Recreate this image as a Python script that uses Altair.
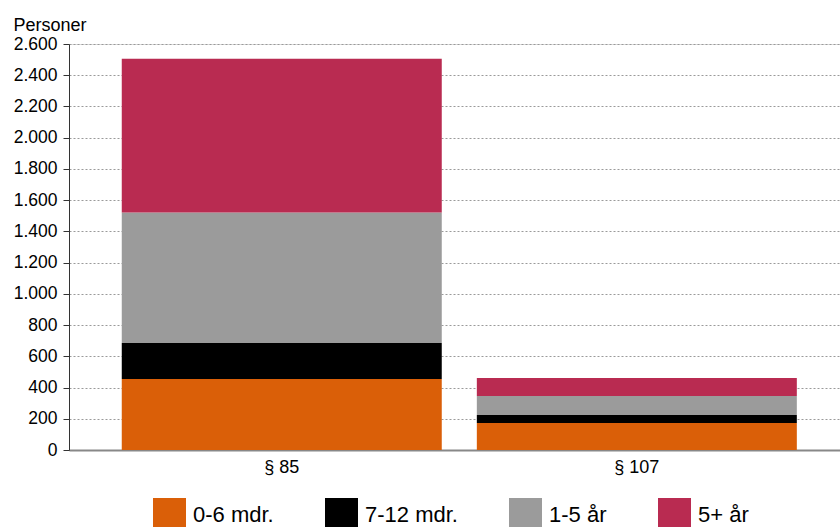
import altair as alt
import pandas as pd

# Categories and stacked series (persons)
categories = ["§ 85", "§ 107"]
groups = ["0-6 mdr.", "7-12 mdr.", "1-5 år", "5+ år"]
colors = ["#DA5F08", "#000000", "#9B9B9B", "#B92B51"]
values = {
    "0-6 mdr.": [455, 173],
    "7-12 mdr.": [231, 51],
    "1-5 år": [835, 122],
    "5+ år": [985, 115],
}

rows = []
for gi, g in enumerate(groups):
    for ci, c in enumerate(categories):
        rows.append({"kategori": c, "gruppe": g, "personer": values[g][ci], "orden": gi})
df = pd.DataFrame(rows)

FONT = "Liberation Sans"

bars = alt.Chart(df).mark_bar(size=320).encode(
    x=alt.X(
        "kategori:N",
        sort=categories,
        scale=alt.Scale(paddingInner=0.0986, paddingOuter=0.135, align=0.55),
        axis=alt.Axis(
            title=None,
            labelAngle=0,
            labelFontSize=18,
            labelFont=FONT,
            labelColor="#000000",
            labelPadding=8,
            ticks=False,
            domainColor="#888888",
            domainWidth=2,
            grid=False,
        ),
    ),
    y=alt.Y(
        "personer:Q",
        stack="zero",
        scale=alt.Scale(domain=[0, 2600], nice=False),
        axis=alt.Axis(
            values=list(range(0, 2601, 200)),
            labelExpr="replace(format(datum.value, ','), ',', '.')",
            title="Personer",
            titleAngle=0,
            titleAlign="left",
            titleBaseline="alphabetic",
            titleX=-56,
            titleY=-14,
            titleFont=FONT,
            titleFontSize=18,
            titleFontWeight="normal",
            titleColor="#000000",
            labelFont=FONT,
            labelFontSize=17.5,
            labelColor="#000000",
            labelPadding=6,
            tickSize=6,
            tickColor="#333333",
            domainColor="#333333",
            gridColor="#9a9a9a",
            gridDash=[2, 2],
            gridWidth=1,
        ),
    ),
    color=alt.Color(
        "gruppe:N",
        sort=groups,
        scale=alt.Scale(domain=groups, range=colors),
        legend=alt.Legend(
            title=None,
            orient="none",
            legendX=84,
            legendY=454,
            direction="horizontal",
            columns=4,
            symbolType="square",
            symbolSize=1089,
            symbolStrokeWidth=0,
            labelFont=FONT,
            labelFontSize=22,
            labelColor="#000000",
            labelOffset=7,
            columnPadding=51,
            padding=0,
        ),
    ),
    order=alt.Order("orden:Q", sort="ascending"),
).properties(
    width=771,
    height=406,
    autosize=alt.AutoSizeParams(type="none"),
    padding={"left": 69, "top": 44, "right": 0, "bottom": 77},
).configure_view(stroke=None).configure(background="#ffffff")

chart = bars
chart.save("out.html", embed_options={"renderer": "svg", "actions": False})
